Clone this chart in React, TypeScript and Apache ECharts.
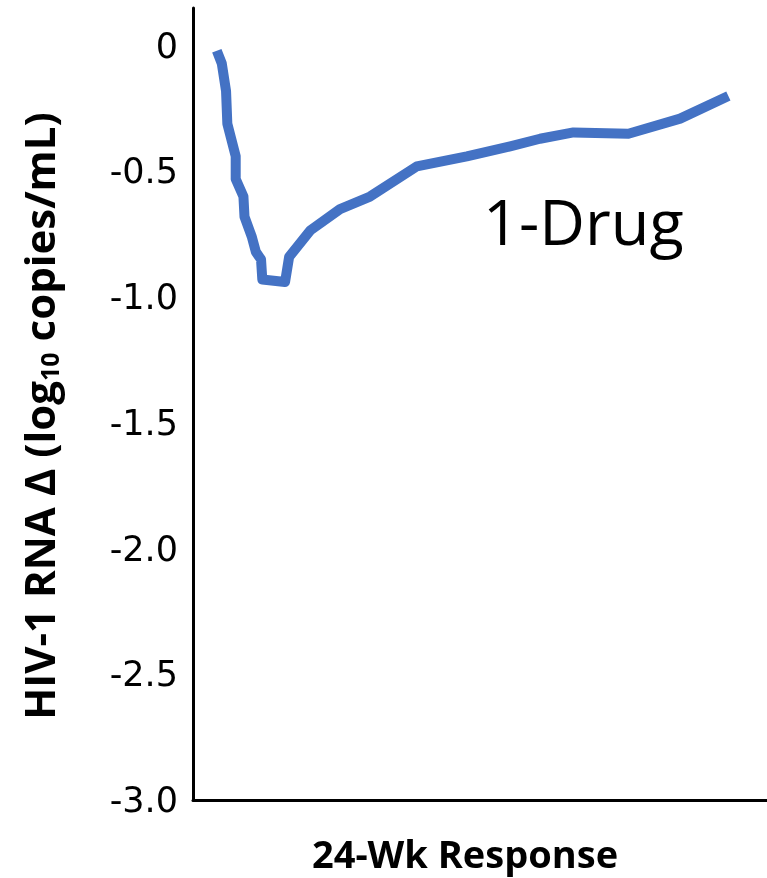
import React, { useEffect, useRef } from "react";
import * as echarts from "echarts";

// Weeks (approx.) and change in HIV-1 RNA (log10 copies/mL)
const weeks = [0.08, 0.31, 0.51, 0.57, 0.78, 0.96, 0.96, 1.32, 1.37, 1.71, 1.9, 2.14, 2.2, 3.26, 3.45, 4.43, 5.82, 7.22, 9.4, 11.73, 13.75, 15.14, 16.7, 19.26, 21.67, 23.92];
const rnaChange = [-0.02, -0.07, -0.18, -0.31, -0.38, -0.44, -0.53, -0.6, -0.68, -0.76, -0.82, -0.85, -0.93, -0.94, -0.84, -0.735, -0.65, -0.6, -0.48, -0.44, -0.4, -0.37, -0.345, -0.35, -0.29, -0.2];
const seriesLabel = "1-Drug";
const yTitle = "HIV-1 RNA Δ (log";
const yTitleSub = "10";
const yTitleEnd = " copies/mL)";
const xTitle = "24-Wk Response";

export default function App() {
  const ref = useRef<HTMLDivElement>(null);
  useEffect(() => {
    if (!ref.current) return;
    const chart = echarts.init(ref.current, undefined, { renderer: "svg" });
    const data = weeks.map((w, i) => [w, rnaChange[i]]);
    chart.setOption({
      animation: false,
      grid: { left: 193, right: 0, top: 8, bottom: 78 },
      xAxis: {
        type: "value",
        min: -1.03,
        max: 25.72,
        axisLine: { show: true, onZero: false, lineStyle: { color: "#000", width: 3 } },
        axisTick: { show: false },
        axisLabel: { show: false },
        splitLine: { show: false },
      },
      yAxis: {
        type: "value",
        min: -3,
        max: 0.15,
        interval: 0.5,
        axisLine: { show: true, onZero: false, lineStyle: { color: "#000", width: 3 } },
        axisTick: { show: false },
        splitLine: { show: false },
        axisLabel: {
          showMaxLabel: false,
          margin: 15,
          color: "#000",
          fontFamily: "DejaVu Sans",
          fontSize: 35,
          formatter: (v: number) => (Math.abs(v) < 1e-9 ? "0" : v.toFixed(1)),
        },
      },
      series: [
        {
          type: "line",
          data,
          showSymbol: false,
          lineStyle: { color: "#4472C4", width: 10, join: "round" },
        },
      ],
      graphic: [
        {
          type: "text",
          x: 483,
          y: 220,
          style: {
            text: seriesLabel,
            fontFamily: "Open Sans",
            fontSize: 63,
            fill: "#000",
            textAlign: "left",
            textVerticalAlign: "middle",
          },
        },
        {
          type: "text",
          x: 465,
          y: 853,
          style: {
            text: xTitle,
            fontFamily: "Open Sans",
            fontWeight: "bold",
            fontSize: 38,
            fill: "#000",
            textAlign: "center",
            textVerticalAlign: "middle",
          },
        },
        {
          type: "text",
          x: 38,
          y: 416,
          rotation: Math.PI / 2,
          style: {
            text: `{a|${yTitle}}{s|${yTitleSub}}{a|${yTitleEnd}}`,
            textAlign: "center",
            textVerticalAlign: "middle",
            rich: {
              a: { fontFamily: "Open Sans", fontWeight: "bold", fontSize: 42, fill: "#000", color: "#000" },
              s: { fontFamily: "Open Sans", fontWeight: "bold", fontSize: 25, fill: "#000", color: "#000", padding: [22, 0, 0, 0] },
            },
          },
        },
      ],
    });
    return () => chart.dispose();
  }, []);
  return <div ref={ref} style={{ position: "fixed", left: 0, top: 0, width: 767, height: 878 }} />;
}
